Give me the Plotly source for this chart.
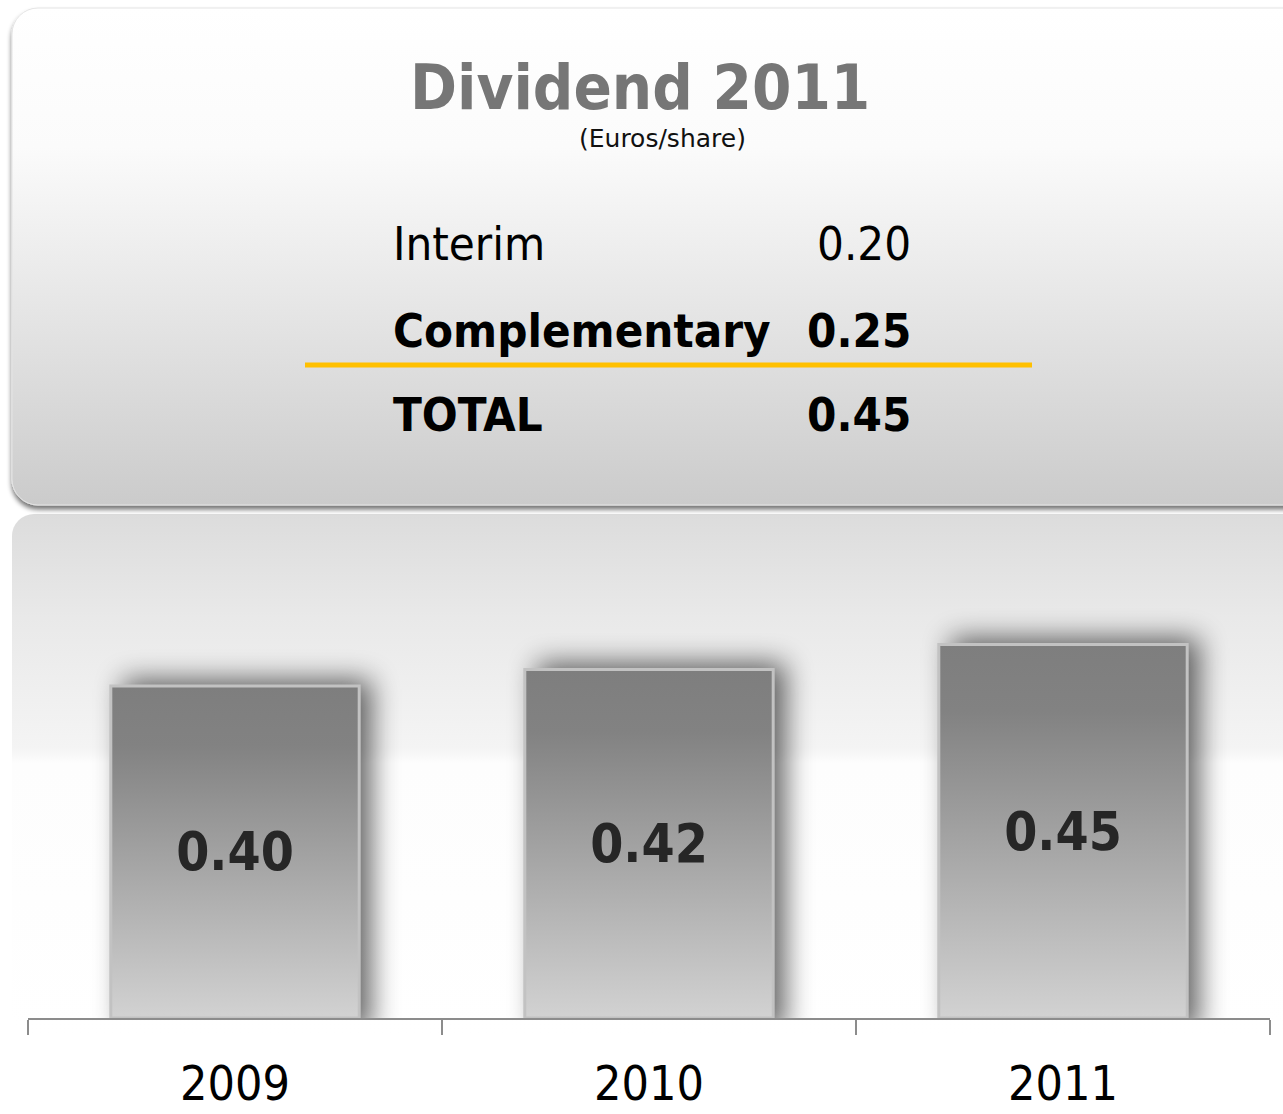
import base64
import plotly.graph_objects as go

# ---------------- data ----------------
years = ["2009", "2010", "2011"]
dividends = [0.40, 0.42, 0.45]
dividend_labels = ["0.40", "0.42", "0.45"]
table_labels = ["Interim", "Complementary", "TOTAL"]
table_values = ["0.20", "0.25", "0.45"]
table_bold = [False, True, True]
title_text = "Dividend 2011"
subtitle_text = "(Euros/share)"

# ---------------- layout geometry ----------------
W, H = 1283, 1114
ML, MR, MT, MB = 28, 13, 515, 96
PW = W - ML - MR
PH = H - MT - MB
YMAX = 0.606
BARW = 0.6
PX_PER_CAT = PW / len(years)
PX_PER_UNIT = PH / YMAX


def px2x(px):
    return (px - ML) / PW


def py2y(py):
    return (H - MB - py) / PH


def svg_uri(svg):
    return "data:image/svg+xml;base64," + base64.b64encode(svg.encode("utf-8")).decode("ascii")


# background: rounded header box + fading chart area
bg_svg = f"""<svg xmlns="http://www.w3.org/2000/svg" width="{W}" height="{H}" viewBox="0 0 {W} {H}">
<defs>
 <linearGradient id="box" x1="0" y1="0" x2="0" y2="1">
  <stop offset="0" stop-color="#ffffff"/>
  <stop offset="0.28" stop-color="#fbfbfb"/>
  <stop offset="0.6" stop-color="#e6e6e6"/>
  <stop offset="1" stop-color="#cbcbcb"/>
 </linearGradient>
 <linearGradient id="area" x1="0" y1="0" x2="0" y2="1">
  <stop offset="0" stop-color="#dcdcdc"/>
  <stop offset="0.2" stop-color="#e9e9e9"/>
  <stop offset="0.45" stop-color="#f4f4f4"/>
  <stop offset="0.48" stop-color="#fdfdfd"/>
  <stop offset="1" stop-color="#ffffff"/>
 </linearGradient>
 <filter id="sh" x="-5%" y="-5%" width="110%" height="120%">
  <feGaussianBlur in="SourceAlpha" stdDeviation="2.5"/>
  <feOffset dx="0" dy="4" result="b"/>
  <feComponentTransfer><feFuncA type="linear" slope="0.55"/></feComponentTransfer>
  <feMerge><feMergeNode/><feMergeNode in="SourceGraphic"/></feMerge>
 </filter>
</defs>
<rect x="12" y="514" width="1320" height="520" rx="22" fill="url(#area)"/>
<rect x="12" y="8" width="1320" height="497" rx="26" fill="url(#box)" stroke="#e4e4e4" stroke-width="1" filter="url(#sh)"/>
</svg>"""

images = [dict(source=svg_uri(bg_svg), xref="paper", yref="paper",
               x=px2x(0), y=py2y(0), sizex=W / PW, sizey=H / PH,
               xanchor="left", yanchor="top", sizing="stretch", layer="below")]

# gradient + shadow for each bar, placed from the data through the axes
PAD_L, PAD_R, PAD_T = 25, 80, 40
for i, v in enumerate(dividends):
    bw = BARW * PX_PER_CAT
    bh = v * PX_PER_UNIT
    sw, sh = bw + PAD_L + PAD_R, bh + PAD_T
    bar_svg = f"""<svg xmlns="http://www.w3.org/2000/svg" width="{sw:.1f}" height="{sh:.1f}" viewBox="0 0 {sw:.1f} {sh:.1f}" preserveAspectRatio="none">
<defs>
 <linearGradient id="g" x1="0" y1="0" x2="0" y2="1">
  <stop offset="0" stop-color="#7e7e7e"/>
  <stop offset="0.18" stop-color="#828282"/>
  <stop offset="1" stop-color="#d2d2d2"/>
 </linearGradient>
 <filter id="s" x="-40%" y="-40%" width="180%" height="180%">
  <feGaussianBlur stdDeviation="14"/>
 </filter>
</defs>
<rect x="{PAD_L + 12}" y="{PAD_T - 6}" width="{bw:.1f}" height="{bh + 20:.1f}" fill="#000" opacity="0.62" filter="url(#s)"/>
<rect x="{PAD_L}" y="{PAD_T}" width="{bw:.1f}" height="{bh:.1f}" fill="url(#g)"/>
</svg>"""
    images.append(dict(source=svg_uri(bar_svg), xref="x", yref="y",
                       x=i - BARW / 2 - PAD_L / PX_PER_CAT, y=v + PAD_T / PX_PER_UNIT,
                       sizex=sw / PX_PER_CAT, sizey=v + PAD_T / PX_PER_UNIT,
                       xanchor="left", yanchor="top", sizing="stretch", layer="below"))

fig = go.Figure()
fig.add_trace(go.Bar(
    x=years, y=dividends, width=BARW,
    text=dividend_labels, textposition="inside", insidetextanchor="middle",
    textfont=dict(family="DejaVu Sans Condensed", size=53, color="#262626", weight="bold"),
    marker=dict(color="rgba(0,0,0,0)", line=dict(color="#c2c2c2", width=3)),
    hoverinfo="skip", showlegend=False,
))

annotations = [
    dict(text=f"<b>{title_text}</b>", xref="paper", yref="paper", x=px2x(640), y=py2y(87),
         xanchor="center", yanchor="middle", showarrow=False,
         font=dict(family="DejaVu Sans Condensed", size=63, color="#767676")),
    dict(text=subtitle_text, xref="paper", yref="paper", x=px2x(662), y=py2y(138),
         xanchor="center", yanchor="middle", showarrow=False,
         font=dict(family="DejaVu Sans", size=25, color="#111111")),
]
row_y = [244, 330, 415]
for lab, val, bold, ry in zip(table_labels, table_values, table_bold, row_y):
    weight = "bold" if bold else "normal"
    annotations.append(dict(text=lab, xref="paper", yref="paper", x=px2x(391), y=py2y(ry),
                            xanchor="left", yanchor="middle", showarrow=False,
                            font=dict(family="DejaVu Sans Condensed", size=47, color="#000000", weight=weight)))
    annotations.append(dict(text=val, xref="paper", yref="paper", x=px2x(913), y=py2y(ry),
                            xanchor="right", yanchor="middle", showarrow=False,
                            font=dict(family="DejaVu Sans Condensed", size=47, color="#000000", weight=weight)))

shapes = [dict(type="line", xref="paper", yref="paper", x0=px2x(305), x1=px2x(1032),
               y0=py2y(365), y1=py2y(365), line=dict(color="#FFC000", width=5))]

fig.update_layout(
    width=W, height=H,
    margin=dict(l=ML, r=MR, t=MT, b=MB, pad=0, autoexpand=False),
    paper_bgcolor="#ffffff", plot_bgcolor="rgba(0,0,0,0)",
    images=images, annotations=annotations, shapes=shapes,
    xaxis=dict(type="category", range=[-0.5, len(years) - 0.5], showgrid=False, zeroline=False,
               showline=True, linecolor="#8c8c8c", linewidth=2, automargin=False,
               ticks="outside", tickson="boundaries", ticklen=15, tickwidth=2, tickcolor="#8c8c8c",
               ticklabelstandoff=22,
               tickfont=dict(family="DejaVu Sans Condensed", size=48, color="#000000"),
               fixedrange=True),
    yaxis=dict(visible=False, range=[0, YMAX], showgrid=False, zeroline=False, fixedrange=True,
               automargin=False),
    showlegend=False,
)

fig.write_html("out.html")
